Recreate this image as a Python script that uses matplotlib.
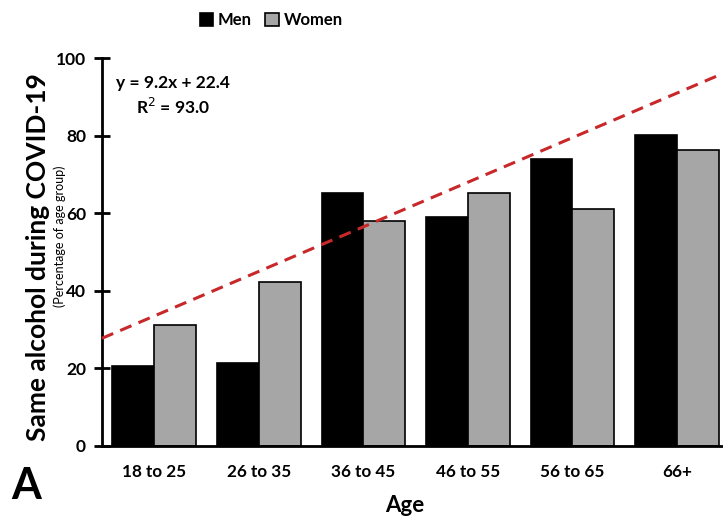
import matplotlib
matplotlib.use('Agg')
import matplotlib.pyplot as plt
import numpy as np

# --- data ---
ages = ['18 to 25', '26 to 35', '36 to 45', '46 to 55', '56 to 65', '66+']
men = [20.6, 21.4, 65.2, 59.1, 74.0, 80.2]
women = [31.2, 42.3, 58.0, 65.3, 61.1, 76.3]
trend_slope = 11.5
trend_intercept = 22.0

plt.rcParams['font.family'] = ['Lato', 'DejaVu Sans']

fig = plt.figure(figsize=(7.23, 5.24), dpi=100)
ax = fig.add_axes([0.141, 0.149, 0.859, 0.74])

x = np.arange(1, len(ages) + 1)
w = 0.4
ax.bar(x - w / 2, men, w, color='black', edgecolor='black', linewidth=1.2, label='Men', zorder=2)
ax.bar(x + w / 2, women, w, color='#a6a6a6', edgecolor='black', linewidth=1.2, label='Women', zorder=2)

xl = (0.5, 6.44)
tx = np.array(xl)
ax.plot(tx, trend_slope * tx + trend_intercept, color='#c8282a', lw=2.2,
        dashes=(4, 2.5), zorder=3, clip_on=False)

ax.set_xlim(*xl)
ax.set_ylim(0, 100)
ax.set_yticks(range(0, 101, 20))
ax.set_xticks(x)
ax.set_xticklabels(ages)

for s in ['top', 'right']:
    ax.spines[s].set_visible(False)
for s in ['left', 'bottom']:
    ax.spines[s].set_linewidth(2)
ax.tick_params(axis='y', direction='inout', length=11, width=2, labelsize=12.5, pad=6)
ax.tick_params(axis='x', length=0, labelsize=12.3, pad=13)
for t in ax.get_xticklabels() + ax.get_yticklabels():
    t.set_fontweight('bold')

# trend equation
ax.text(0.63, 93.5, 'y = 9.2x + 22.4', fontsize=12.5, fontweight='bold', va='center')
ax.text(1.18, 87.5, 'R$^2$ = 93.0', fontsize=12.5, fontweight='bold', va='center', ha='center')

fig.text(0.053, 0.51, 'Same alcohol during COVID-19', rotation=90, fontsize=19,
         fontweight='bold', ha='center', va='center')
fig.text(0.083, 0.55, '(Percentage of age group)', rotation=90, fontsize=9,
         ha='center', va='center')
fig.text(0.56, 0.035, 'Age', fontsize=16, fontweight='bold', ha='center', va='center')
fig.text(0.015, 0.072, 'A', fontsize=31, fontweight='bold', ha='left', va='center')

fig.legend(loc='upper center', bbox_to_anchor=(0.375, 1.005), ncol=2, frameon=False,
           handlelength=0.8, handleheight=0.8, handletextpad=0.3, columnspacing=0.8,
           prop={'weight': 'bold', 'size': 12})

fig.savefig('out.png', dpi=100)
